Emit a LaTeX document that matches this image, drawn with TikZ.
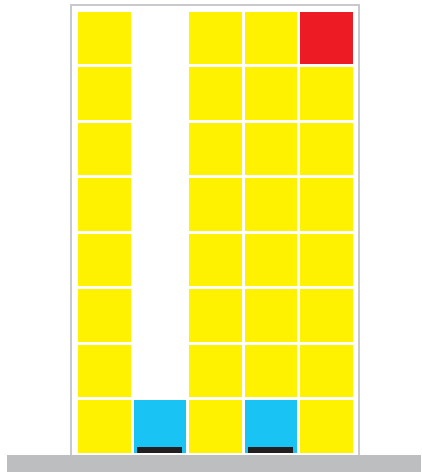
\documentclass[tikz,border=0pt]{standalone}
\definecolor{cyel}{HTML}{FFF200}
\definecolor{cred}{HTML}{ED1C24}
\definecolor{ccyan}{HTML}{19C3F3}
\definecolor{cdark}{HTML}{231F20}
\definecolor{cgray}{HTML}{BCBEC0}
\definecolor{cframe}{HTML}{C8C9CC}
\begin{document}
\begin{tikzpicture}[x=1pt,y=-1pt,
  cell/.style={fill=cyel},
  frame/.style={draw=cframe,line width=1.4pt}]
\useasboundingbox (0,0) rectangle (421,474);
% frame
\draw[frame] (71,5) rectangle (359,456);
% ground
\fill[cgray] (7,455) rectangle (421,472);
% grid
\foreach \c in {0,...,4}{
  \foreach \r in {0,...,7}{
    \pgfmathsetmacro{\xx}{78+55.5*\c}
    \pgfmathsetmacro{\yy}{11.5+55.5*\r}
    \pgfmathsetmacro{\skip}{(\c==1 && \r<7) ? 1 : 0}
    \ifdim\skip pt<0.5pt
      \fill[cell] (\xx,\yy) rectangle ++(52.5,52.5);
    \fi
  }
}
% special cells
\fill[cred] (300,11.5) rectangle ++(52.5,52.5);
\fill[ccyan] (133.5,400) rectangle ++(52.5,52.5);
\fill[ccyan] (244.5,400) rectangle ++(52.5,52.5);
\fill[cdark] (137,447) rectangle (182,452.5);
\fill[cdark] (248,447) rectangle (293,452.5);
\end{tikzpicture}
\end{document}
